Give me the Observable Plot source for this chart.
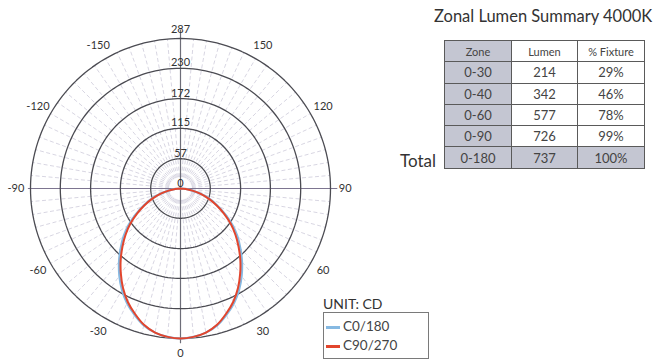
<!DOCTYPE html>
<html>
<head>
<meta charset="utf-8">
<script src="https://cdn.jsdelivr.net/npm/d3@7"></script>
<script src="https://cdn.jsdelivr.net/npm/@observablehq/plot@0.6"></script>
<style>
  html, body { margin: 0; padding: 0; background: #fff; }
  #wrap { position: relative; width: 654px; height: 361px; overflow: hidden; font-family: Lato, "DejaVu Sans", sans-serif; color: #3a3a3a; }
  #chart { position: absolute; left: 0; top: 0; }
  #title { position: absolute; left: 434px; top: 6px; font-size: 16.5px; white-space: nowrap; color: #333; }
  #tbl { position: absolute; left: 444px; top: 40px; border-collapse: collapse; }
  #tbl td { border: 1.5px solid #5a5a5a; height: 20.3px; padding: 0; text-align: center; font-size: 13px; color: #444; }
  #tbl tr.head td { font-size: 11px; }
  #tbl td.g { background: #c4c6d2; }
  #total { position: absolute; left: 400px; top: 150px; font-size: 17px; color: #333; }
  #unit { position: absolute; left: 323px; top: 295px; font-size: 14px; color: #333; }
  #legbox { position: absolute; left: 323px; top: 312px; width: 106px; height: 47px; border: 1px solid #7a7a7a; box-sizing: border-box; }
  .li { position: absolute; left: 2px; font-size: 13.5px; color: #444; white-space: nowrap; }
  .sw { display: inline-block; width: 14px; height: 3px; vertical-align: middle; margin-right: 3px; }
</style>
</head>
<body>
<div id="wrap">
  <div id="chart"></div>
  <div id="title"></div>
  <table id="tbl"></table>
  <div id="total">Total</div>
  <div id="unit">UNIT: CD</div>
  <div id="legbox"></div>
</div>
<script>
// ---- Data ----
const gammaAngles = [0, 5, 10, 15, 20, 25, 30, 35, 40, 45, 50, 55, 60, 65, 70, 75, 80, 85, 90];
const c0_180  = [287, 285, 280, 271, 257, 242, 224, 204, 183, 162, 142, 121, 99, 78, 60, 41, 23, 10, 0];
const c90_270 = [287, 285, 280, 270, 255, 239, 220, 199, 178, 157, 137, 117, 96, 76, 58, 40, 23, 10, 0];
const ringValues = [57, 115, 172, 230, 287];
const ringLabels = ["0", "57", "115", "172", "230"];
const outerLabel = "287";
const angleLabels = [0, 30, 60, 90, 120, 150, -30, -60, -90, -120, -150];
const seriesNames = ["C0/180", "C90/270"];
const seriesColors = ["#86b9e2", "#e2452d"];

const tableTitle = "Zonal Lumen Summary 4000K";
const tableHeader = ["Zone", "Lumen", "% Fixture"];
const zones = ["0-30", "0-40", "0-60", "0-90", "0-180"];
const lumens = [214, 342, 577, 726, 737];
const fixturePct = ["29%", "46%", "78%", "99%", "100%"];

// ---- Helpers ----
const rad = d => d * Math.PI / 180;
const maxR = 287;
function curvePoints(values, name) {
  const pts = [];
  for (let i = gammaAngles.length - 1; i >= 0; i--) pts.push({a: -gammaAngles[i], v: values[i], s: name});
  for (let i = 1; i < gammaAngles.length; i++) pts.push({a: gammaAngles[i], v: values[i], s: name});
  return pts;
}
const dataC0 = curvePoints(c0_180, seriesNames[0]);
const dataC90 = curvePoints(c90_270, seriesNames[1]);

const ringPts = ringValues.flatMap(r => d3.range(0, 361, 2).map(a => ({r, a})));
const spokes = d3.range(0, 360, 5).filter(a => a % 90 !== 0);
const ringText = ringLabels.map(t => ({t, v: +t}));

const pxPerUnit = 150 / maxR;
const cx = 180, cy = 188, W = 654, H = 361;

const chart = Plot.plot({
  width: W, height: H,
  margin: 0,
  style: {background: "transparent", fontFamily: "Lato, 'DejaVu Sans', sans-serif"},
  x: {domain: [-cx / pxPerUnit, (W - cx) / pxPerUnit], range: [0, W], axis: null},
  y: {domain: [-cy / pxPerUnit, (H - cy) / pxPerUnit], range: [0, H], axis: null},
  marks: [
    // dashed spokes
    Plot.link(spokes, {
      x1: a => 22 * Math.sin(rad(a)), y1: a => 22 * Math.cos(rad(a)),
      x2: a => maxR * Math.sin(rad(a)), y2: a => maxR * Math.cos(rad(a)),
      stroke: "#bdbacf", strokeWidth: 0.6, strokeDasharray: "4,2.5"
    }),
    // axis lines
    Plot.link([0], {x1: -292, x2: 300, y1: 0, y2: 0, stroke: "#7d7590", strokeWidth: 1.2}),
    Plot.link([0], {x1: 0, x2: 0, y1: -304, y2: 296, stroke: "#6d6d78", strokeWidth: 1.2}),
    // rings
    Plot.line(ringPts, {
      x: d => d.r * Math.sin(rad(d.a)), y: d => d.r * Math.cos(rad(d.a)), z: "r",
      stroke: "#4b4b52", strokeWidth: 1.3
    }),
    // curves
    Plot.line(dataC0, {
      x: d => d.v * Math.sin(rad(d.a)), y: d => d.v * Math.cos(rad(d.a)),
      stroke: seriesColors[0], strokeWidth: 2.2, curve: "catmull-rom"
    }),
    Plot.line(dataC90, {
      x: d => d.v * Math.sin(rad(d.a)), y: d => d.v * Math.cos(rad(d.a)),
      stroke: seriesColors[1], strokeWidth: 2, curve: "catmull-rom"
    }),
    // ring labels
    Plot.text(ringText, {
      x: 0, y: d => -d.v, text: "t", lineAnchor: "bottom", dy: -2,
      fontSize: 11, fill: "#333"
    }),
    Plot.text([outerLabel], {
      x: 0, y: d => -(+d), text: d => d, lineAnchor: "bottom", dy: -6,
      fontSize: 11, fill: "#333"
    }),
    // angle labels
    Plot.text(angleLabels, {
      x: a => 315 * Math.sin(rad(a)), y: a => 315 * Math.cos(rad(a)),
      text: a => String(a), fontSize: 11, fill: "#333"
    })
  ]
});
document.getElementById("chart").appendChild(chart);

// ---- Table ----
document.getElementById("title").textContent = tableTitle;
const tbl = document.getElementById("tbl");
const widths = [66, 65, 66];
const head = document.createElement("tr");
head.className = "head";
tableHeader.forEach((h, i) => {
  const td = document.createElement("td");
  td.textContent = h; td.style.width = widths[i] + "px";
  if (i === 0) td.className = "g";
  head.appendChild(td);
});
tbl.appendChild(head);
zones.forEach((z, r) => {
  const tr = document.createElement("tr");
  const last = r === zones.length - 1;
  [z, lumens[r], fixturePct[r]].forEach((v, i) => {
    const td = document.createElement("td");
    td.textContent = v;
    if (i === 0 || last) td.className = "g";
    tr.appendChild(td);
  });
  tbl.appendChild(tr);
});

// ---- Legend ----
const box = document.getElementById("legbox");
seriesNames.forEach((n, i) => {
  const d = document.createElement("div");
  d.className = "li";
  d.style.top = (i === 0 ? 5 : 24) + "px";
  d.innerHTML = `<span class="sw" style="background:${seriesColors[i]}"></span>${n}`;
  box.appendChild(d);
});
</script>
</body>
</html>
